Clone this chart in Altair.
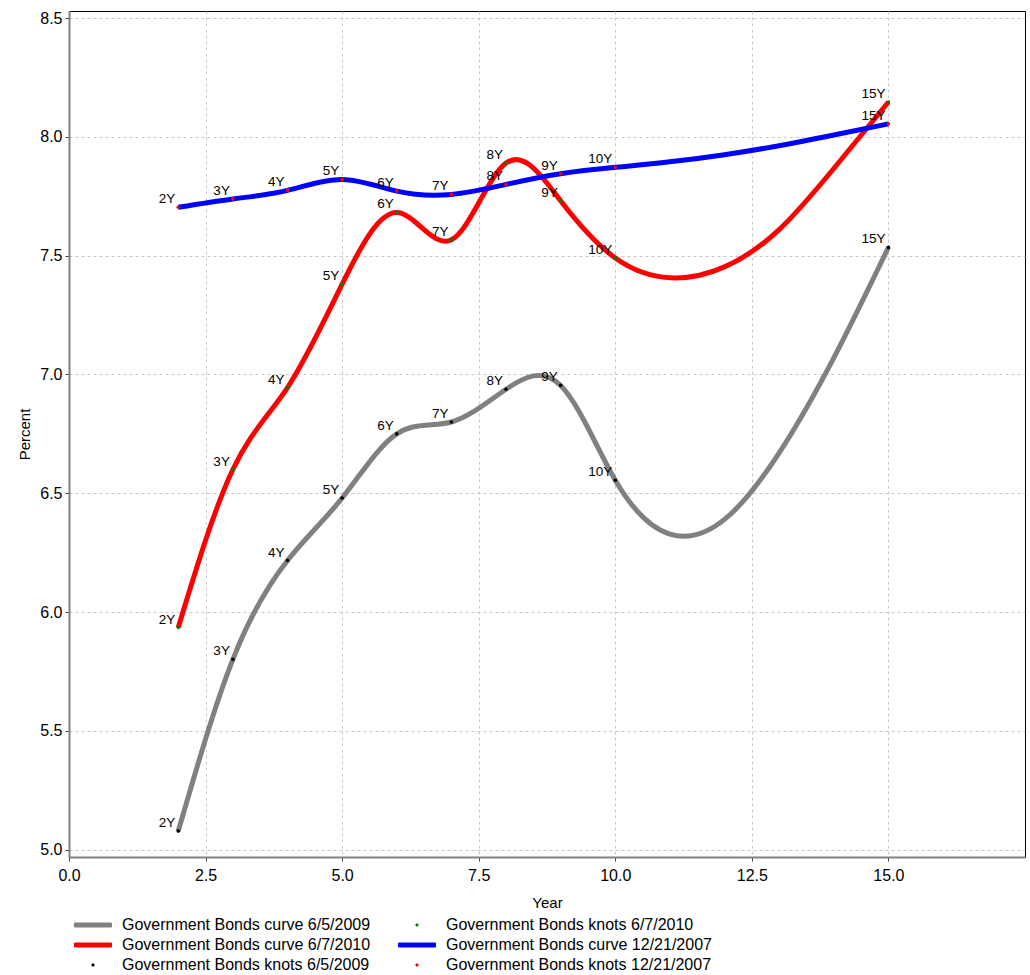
import altair as alt
import pandas as pd

# knot tenors
years = [2, 3, 4, 5, 6, 7, 8, 9, 10, 15]
tenors = ["2Y", "3Y", "4Y", "5Y", "6Y", "7Y", "8Y", "9Y", "10Y", "15Y"]
knots_2009 = [5.078, 5.801, 6.217, 6.480, 6.750, 6.800, 6.938, 6.954, 6.555, 7.535]
knots_2010 = [5.935, 6.600, 6.945, 7.380, 7.682, 7.567, 7.890, 7.731, 7.490, 8.147]
knots_2007 = [7.704, 7.739, 7.775, 7.821, 7.772, 7.758, 7.800, 7.845, 7.872, 8.055]

# fitted curves at every year
curve_years = [2, 3, 4, 5, 6, 7, 8, 9, 10, 11, 12, 13, 14, 15]
curve_2009 = [5.078, 5.801, 6.217, 6.480, 6.750, 6.800, 6.938, 6.954, 6.555, 6.328, 6.390, 6.670, 7.070, 7.535]
curve_2010 = [5.935, 6.600, 6.945, 7.380, 7.682, 7.567, 7.890, 7.731, 7.490, 7.407, 7.453, 7.610, 7.867, 8.147]
curve_2007 = [7.704, 7.739, 7.775, 7.821, 7.772, 7.758, 7.800, 7.845, 7.872, 7.895, 7.925, 7.963, 8.008, 8.055]

C09 = "Government Bonds curve 6/5/2009"
C10 = "Government Bonds curve 6/7/2010"
C07 = "Government Bonds curve 12/21/2007"
K09 = "Government Bonds knots 6/5/2009"
K10 = "Government Bonds knots 6/7/2010"
K07 = "Government Bonds knots 12/21/2007"

legend_order = [C09, C10, K09, K10, C07, K07]
legend_colors = ["#808080", "#ff0000", "#000000", "#008000", "#0000ff", "#ff0000"]

x_ticks = [0.0, 2.5, 5.0, 7.5, 10.0, 12.5, 15.0]
y_ticks = [5.0, 5.5, 6.0, 6.5, 7.0, 7.5, 8.0, 8.5]

FONT = "Liberation Sans"


def knot_frame(values, name):
    return pd.DataFrame({"year": years, "rate": values, "tenor": tenors, "series": name})


def curve_frame(values, name):
    return pd.DataFrame({"year": curve_years, "rate": values, "series": name})


color_scale = alt.Scale(domain=legend_order, range=legend_colors)

bar_path = "M-3.7,-0.4H3.7V0.4H-3.7Z"
dot_path = "M0,-0.24A0.24,0.24 0 1,1 0,0.24A0.24,0.24 0 1,1 0,-0.24Z"
is_curve = "indexof(datum.value, 'curve') >= 0"

legend = alt.Legend(
    title=None,
    orient="none",
    legendX=16,
    legendY=906,
    columns=2,
    columnPadding=25,
    rowPadding=4,
    padding=0,
    symbolSize=100,
    symbolType={"expr": is_curve + " ? '" + bar_path + "' : '" + dot_path + "'"},
    symbolFillColor={"expr": "scale('color', datum.value)"},
    symbolStrokeColor={"expr": "scale('color', datum.value)"},
    symbolStrokeWidth=1,
    symbolOpacity=1,
    labelOffset=21,
    labelFont=FONT,
    labelFontSize=16,
    labelColor="black",
    labelLimit=400,
)

x_enc = alt.X(
    "year:Q",
    scale=alt.Scale(domain=[0, 17.5], nice=False, zero=False),
    axis=alt.Axis(values=x_ticks, format=".1f", title="Year", labelFlush=False),
)
y_enc = alt.Y(
    "rate:Q",
    scale=alt.Scale(domain=[4.969, 8.530], nice=False, zero=False),
    axis=alt.Axis(values=y_ticks, format=".1f", title="Percent", labelFlush=False),
)
color_enc = alt.Color("series:N", scale=color_scale, legend=legend)


def curve(values, name):
    return alt.Chart(curve_frame(values, name)).mark_line(
        interpolate="natural", strokeWidth=5
    ).encode(x=x_enc, y=y_enc, color=color_enc)


def knots(values, name):
    return alt.Chart(knot_frame(values, name)).mark_circle(size=13, opacity=1).encode(
        x=x_enc, y=y_enc, color=color_enc
    )


def labels(values, name):
    return alt.Chart(knot_frame(values, name)).mark_text(
        align="right", baseline="alphabetic", dx=-3, dy=-4,
        font=FONT, fontSize=13.5, color="black"
    ).encode(x=x_enc, y=y_enc, text="tenor:N")


chart = alt.layer(
    curve(curve_2009, C09),
    curve(curve_2010, C10),
    knots(knots_2009, K09),
    knots(knots_2010, K10),
    curve(curve_2007, C07),
    knots(knots_2007, K07),
    labels(knots_2009, K09),
    labels(knots_2010, K10),
    labels(knots_2007, K07),
).properties(
    width=956,
    height=846,
    autosize=alt.AutoSizeParams(type="none"),
    padding={"left": 69, "top": 11, "right": 5, "bottom": 118},
).configure_view(
    stroke="black", strokeWidth=1
).configure_axis(
    labelFont=FONT,
    labelFontSize=16,
    labelColor="black",
    titleFont=FONT,
    titleFontSize=15,
    titleFontWeight="normal",
    titleColor="black",
    domainColor="#808080",
    domainWidth=2,
    tickColor="#404040",
    tickSize=4,
    labelPadding=3,
    gridColor="#c8c8c8",
    gridDash=[3, 3],
    gridWidth=1,
).configure_axisX(
    titlePadding=12,
    labelPadding=6,
).configure_axisY(
    titlePadding=7,
)

chart.save("out.html", embed_options={"renderer": "svg", "actions": False})
